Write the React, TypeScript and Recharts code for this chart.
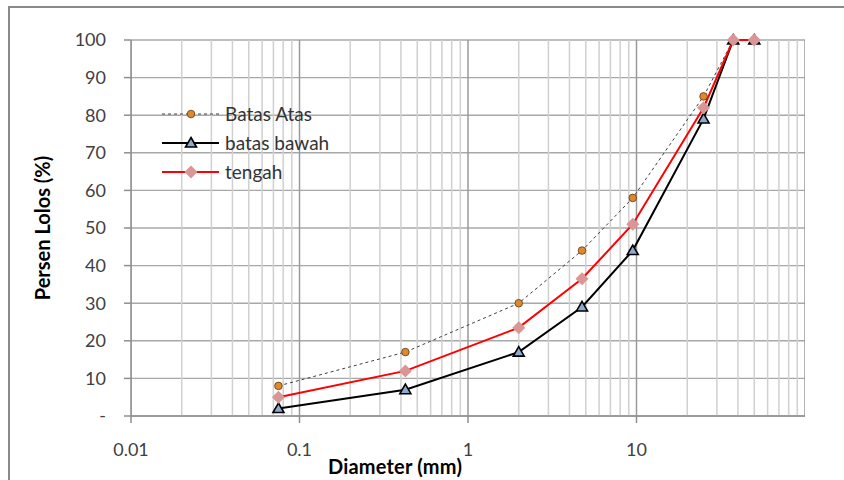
import React from "react";
import {
  CartesianGrid,
  ComposedChart,
  Label,
  Line,
  ReferenceLine,
  XAxis,
  YAxis,
} from "recharts";

// Gradasi agregat: batas atas / batas bawah / tengah vs diameter saringan (skala log)

const diameter = [0.075, 0.425, 2, 4.75, 9.5, 25, 37.5, 50];
const batasAtas = [8, 17, 30, 44, 58, 85, 100, 100];
const batasBawah = [2, 7, 17, 29, 44, 79, 100, 100];
const tengah = [5, 12, 23.5, 36.5, 51, 82, 100, 100];

const xTicks = [0.01, 0.1, 1, 10];
const yTicks = [0, 10, 20, 30, 40, 50, 60, 70, 80, 90, 100];

// garis grid vertikal: 1..9 per dekade
const decades = [0.01, 0.1, 1, 10];
const gridX = [
  ...decades.flatMap((d) => [1, 2, 3, 4, 5, 6, 7, 8, 9].map((m) => Number((d * m).toPrecision(2)))),
  100,
];

const rows = diameter.map((d, i) => ({
  d,
  atas: batasAtas[i],
  bawah: batasBawah[i],
  tengah: tengah[i],
}));

const FONT = "Lato, 'Open Sans', sans-serif";

const Circle = (p: any) => <circle cx={p.cx} cy={p.cy} r={3.8} fill="#E0882E" stroke="#5b3a12" strokeWidth={0.8} />;
const Tri = (p: any) => (
  <path
    d={`M${p.cx},${p.cy - 5.5} L${p.cx + 5.5},${p.cy + 4} L${p.cx - 5.5},${p.cy + 4} Z`}
    fill="#8EAAD0"
    stroke="#000"
    strokeWidth={1.6}
  />
);
const Diamond = (p: any) => (
  <path
    d={`M${p.cx},${p.cy - 6.5} L${p.cx + 6.5},${p.cy} L${p.cx},${p.cy + 6.5} L${p.cx - 6.5},${p.cy} Z`}
    fill="#D99694"
  />
);

const legendItems = [
  { name: "Batas Atas", stroke: "#404040", dash: "3 3", width: 1, Marker: Circle },
  { name: "batas bawah", stroke: "#000", dash: undefined, width: 2, Marker: Tri },
  { name: "tengah", stroke: "#FF0000", dash: undefined, width: 2, Marker: Diamond },
];

function LegendBox() {
  return (
    <div style={{ position: "absolute", left: 162, top: 99, fontFamily: FONT, fontSize: 19, color: "#333" }}>
      {legendItems.map((it) => (
        <div key={it.name} style={{ display: "flex", alignItems: "center", height: 29 }}>
          <svg width={60} height={16}>
            <line x1={0} x2={57} y1={8} y2={8} stroke={it.stroke} strokeWidth={it.width} strokeDasharray={it.dash} />
            <it.Marker cx={29} cy={8} />
          </svg>
          <span style={{ marginLeft: 3 }}>{it.name}</span>
        </div>
      ))}
    </div>
  );
}

export default function App() {
  return (
    <div style={{ position: "fixed", left: 0, top: 0, width: 844, height: 480, overflow: "hidden", background: "#fff" }}>
      <div
        style={{
          position: "absolute",
          left: 8,
          top: 6,
          width: 900,
          height: 600,
          border: "2px solid #8a8a8a",
        }}
      />
      <div style={{ position: "absolute", left: 0, top: 0, fontFamily: FONT }}>
        <ComposedChart width={844} height={480} data={rows} margin={{ top: 40, right: 39, left: 71, bottom: 0 }}>
          <CartesianGrid vertical={false} stroke="#a8a8a8" strokeWidth={1.4} />
          {gridX.map((v) => (
            <ReferenceLine
              key={v}
              x={v}
              stroke={decades.includes(v) || v === 100 ? "#9a9a9a" : "#d0d0d0"}
              strokeWidth={1.5}
              ifOverflow="hidden"
            />
          ))}
          <XAxis
            dataKey="d"
            type="number"
            scale="log"
            domain={[0.01, 100]}
            allowDataOverflow
            ticks={xTicks}
            tickFormatter={(v) => String(v)}
            tick={{ fontSize: 18, fill: "#404040" }}
            tickSize={7}
            tickMargin={20}
            tickLine={{ stroke: "#8f8f8f", strokeWidth: 1.5 }}
            axisLine={{ stroke: "#8f8f8f", strokeWidth: 1.5 }}
            height={64}
          >
            <Label
              value="Diameter (mm)"
              position="center"
              dx={-73}
              dy={19}
              style={{ fontSize: 20, fontWeight: 700, fill: "#000", letterSpacing: 0.2 }}
            />
          </XAxis>
          <YAxis
            type="number"
            domain={[0, 100]}
            ticks={yTicks}
            tickFormatter={(v) => (v === 0 ? "-" : String(v))}
            tick={{ fontSize: 18, fill: "#404040" }}
            tickSize={7}
            tickMargin={18}
            tickLine={{ stroke: "#8f8f8f", strokeWidth: 1.5 }}
            axisLine={{ stroke: "#8f8f8f", strokeWidth: 1.5 }}
            width={60}
          >
            <Label
              value="Persen Lolos (%)"
              angle={-90}
              position="center"
              dx={-58}
              style={{ fontSize: 20, fontWeight: 700, fill: "#000", textAnchor: "middle" }}
            />
          </YAxis>
          <Line
            dataKey="atas"
            name="Batas Atas"
            stroke="#404040"
            strokeWidth={1}
            strokeDasharray="3 3"
            dot={<Circle />}
            activeDot={false}
            isAnimationActive={false}
          />
          <Line
            dataKey="bawah"
            name="batas bawah"
            stroke="#000"
            strokeWidth={2}
            dot={<Tri />}
            activeDot={false}
            isAnimationActive={false}
          />
          <Line
            dataKey="tengah"
            name="tengah"
            stroke="#FF0000"
            strokeWidth={2}
            dot={<Diamond />}
            activeDot={false}
            isAnimationActive={false}
          />
        </ComposedChart>
      </div>
      <LegendBox />
    </div>
  );
}
